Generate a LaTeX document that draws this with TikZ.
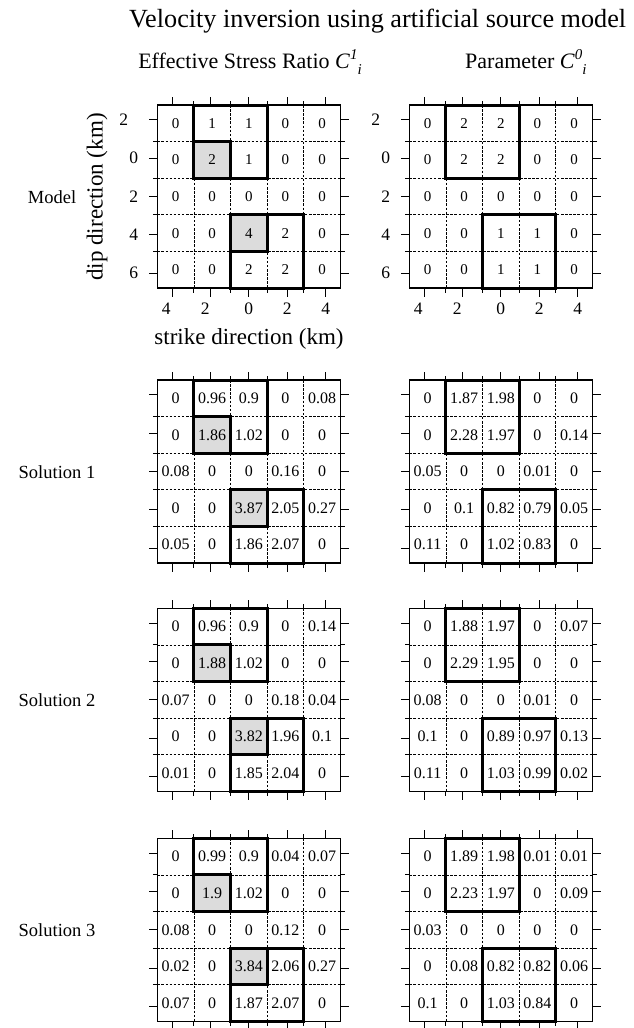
\documentclass[tikz,border=0pt]{standalone}
\usepackage{fontspec}
\setmainfont{Liberation Serif}
\definecolor{cellgray}{RGB}{220,220,220}
\tikzset{
  gridline/.style={line width=0.8pt, dash pattern=on 2.5pt off 1.6pt},
  frame/.style={line width=1.5pt},
  groupbox/.style={line width=3pt, line cap=rect},
  tickmark/.style={line width=1.1pt},
  valtext/.style={inner sep=0pt},
  ticklabel/.style={inner sep=0pt, font=\fontsize{17.5}{17.5}\selectfont},
  axistitle/.style={inner sep=0pt, font=\fontsize{23}{23}\selectfont},
  rowlabel/.style={inner sep=0pt, font=\fontsize{18.5}{18.5}\selectfont},
  header/.style={inner sep=0pt, font=\fontsize{22}{22}\selectfont},
}
\newcommand\supsub[2]{\textit{C}\raisebox{9pt}{\fontsize{15}{15}\selectfont\textit{#1}}\raisebox{-6pt}{\fontsize{15}{15}\selectfont\textit{#2}}}
% #1 name, #2 x0, #3 y0, #4 gray flag, #5 font size, #6 values
\newcommand\panel[6]{%
\begin{scope}[shift={(#2,#3)}]
  \ifnum#4=1
    \fill[cellgray] (36.6,36.6) rectangle (73.2,73.2);
    \fill[cellgray] (73.2,109.8) rectangle (109.8,146.4);
  \fi
  \foreach \k in {1,2,3,4} {
    \draw[gridline] (\k*36.6,0) -- (\k*36.6,183);
    \draw[gridline] (0,\k*36.6) -- (183,\k*36.6);
  }
  \foreach \rowvals [count=\r] in {#6} {
    \foreach \v [count=\c] in \rowvals {
      \node[valtext, font=\fontsize{#5}{#5}\selectfont] (#1-\r-\c) at ({(\c-0.5)*36.6},{(\r-0.5)*36.6}) {\v};
    }
  }
  \foreach \k in {1,2,3,4} {
    \draw[tickmark] (\k*36.6,0) -- ++(0,-4.5);
    \draw[tickmark] (\k*36.6,183) -- ++(0,4.5);
    \draw[tickmark] (0,\k*36.6) -- ++(-4.5,0);
    \draw[tickmark] (183,\k*36.6) -- ++(4.5,0);
  }
  \foreach \k in {-2,-1,0,1,2} {
    \draw[tickmark] ({91.5+\k*38.3},0) -- ++(0,-8.5);
    \draw[tickmark] ({91.5+\k*38.3},183) -- ++(0,8.5);
    \draw[tickmark] (0,{91.5+\k*38.3}) -- ++(-8.5,0);
    \draw[tickmark] (183,{91.5+\k*38.3}) -- ++(8.5,0);
  }
  \ifnum#4=1
    \draw[groupbox] (36.6,36.6) rectangle (73.2,73.2);
    \draw[groupbox] (73.2,109.8) rectangle (109.8,146.4);
  \fi
  \draw[groupbox] (36.6,0) rectangle (109.8,73.2);
  \draw[groupbox] (73.2,109.8) rectangle (146.4,183);
  \draw[frame] (0,0) rectangle (183,183);
\end{scope}}
% y tick labels and x tick labels for model panels: #1 name, #2 x0
\newcommand\modelaxes[2]{%
  \node[ticklabel, anchor=east] (#1-y1) at ({#2-29},{105+91.5-2*38.3}) {2};
  \node[ticklabel, anchor=east] (#1-y2) at ({#2-19},{105+91.5-38.3}) {0};
  \node[ticklabel, anchor=east] (#1-y3) at ({#2-19},{105+91.5}) {2};
  \node[ticklabel, anchor=east] (#1-y4) at ({#2-19},{105+91.5+38.3}) {4};
  \node[ticklabel, anchor=east] (#1-y5) at ({#2-19},{105+91.5+2*38.3}) {6};
  \node[ticklabel] (#1-x1) at ({#2+9},309) {4};
  \node[ticklabel] (#1-x2) at ({#2+48},309) {2};
  \node[ticklabel] (#1-x3) at ({#2+91.5},309) {0};
  \node[ticklabel] (#1-x4) at ({#2+130},309) {2};
  \node[ticklabel] (#1-x5) at ({#2+168.5},309) {4};
}
\begin{document}
\begin{tikzpicture}[x=1pt,y=-1pt]
\useasboundingbox (0,0) rectangle (633,1028);
\fill[white] (0,0) rectangle (633,1028);

\node[inner sep=0pt, anchor=base west, font=\fontsize{26.2}{26.2}\selectfont] (title) at (129,27) {Velocity inversion using artificial source model};
\node[header, anchor=base] (h1) at (250,68) {Effective Stress Ratio \supsub{1}{i}};
\node[header, anchor=base west] (h2) at (465,68) {Parameter \supsub{0}{i}};

% Model
\panel{mL}{157.3}{105}{1}{15}{{0,1,1,0,0},{0,2,1,0,0},{0,0,0,0,0},{0,0,4,2,0},{0,0,2,2,0}}
\panel{mR}{409.3}{105}{0}{15}{{0,2,2,0,0},{0,2,2,0,0},{0,0,0,0,0},{0,0,1,1,0},{0,0,1,1,0}}
\modelaxes{mL}{157.3}
\modelaxes{mR}{409.3}
\node[axistitle, anchor=base] (xtitle) at (249,344) {strike direction (km)};
\node[axistitle, rotate=90] (ytitle) at (97,197) {dip direction (km)};
\node[rowlabel, anchor=base] (lmodel) at (52,203.5) {Model};

% Solution 1
\panel{s1L}{157.3}{380}{1}{16}{{0,0.96,0.9,0,0.08},{0,1.86,1.02,0,0},{0.08,0,0,0.16,0},{0,0,3.87,2.05,0.27},{0.05,0,1.86,2.07,0}}
\panel{s1R}{409.3}{380}{0}{16}{{0,1.87,1.98,0,0},{0,2.28,1.97,0,0.14},{0.05,0,0,0.01,0},{0,0.1,0.82,0.79,0.05},{0.11,0,1.02,0.83,0}}
\node[rowlabel, anchor=base] (ls1) at (57,478) {Solution 1};

% Solution 2
\panel{s2L}{157.3}{608.3}{1}{16}{{0,0.96,0.9,0,0.14},{0,1.88,1.02,0,0},{0.07,0,0,0.18,0.04},{0,0,3.82,1.96,0.1},{0.01,0,1.85,2.04,0}}
\panel{s2R}{409.3}{608.3}{0}{16}{{0,1.88,1.97,0,0.07},{0,2.29,1.95,0,0},{0.08,0,0,0.01,0},{0.1,0,0.89,0.97,0.13},{0.11,0,1.03,0.99,0.02}}
\node[rowlabel, anchor=base] (ls2) at (57,706.3) {Solution 2};

% Solution 3
\panel{s3L}{157.3}{838.3}{1}{16}{{0,0.99,0.9,0.04,0.07},{0,1.9,1.02,0,0},{0.08,0,0,0.12,0},{0.02,0,3.84,2.06,0.27},{0.07,0,1.87,2.07,0}}
\panel{s3R}{409.3}{838.3}{0}{16}{{0,1.89,1.98,0.01,0.01},{0,2.23,1.97,0,0.09},{0.03,0,0,0,0},{0,0.08,0.82,0.82,0.06},{0.1,0,1.03,0.84,0}}
\node[rowlabel, anchor=base] (ls3) at (57,936.3) {Solution 3};
\end{tikzpicture}
\end{document}
